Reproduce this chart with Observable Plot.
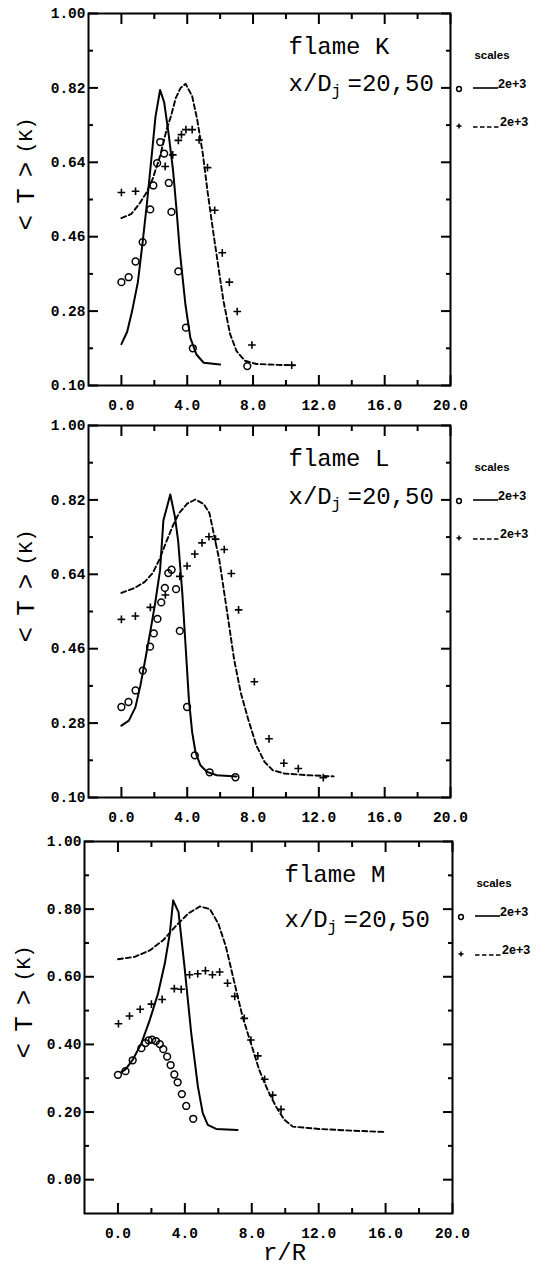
<!DOCTYPE html>
<html><head><meta charset="utf-8">
<script src="https://cdn.jsdelivr.net/npm/d3@7"></script>
<script src="https://cdn.jsdelivr.net/npm/@observablehq/plot@0.6"></script>
<style>
body{margin:0;background:#fff;width:545px;height:1265px;overflow:hidden}
#c svg{display:block;background:#fff}
</style>
</head><body><div id="c"></div>
<script>
// ---------- data ----------
const panelNames = ["flame K", "flame L", "flame M"];
const stationLabel = ["x/D", "j", "=20,50"];
const yAxisLabel = ["<T>", "(K)"];
const xAxisLabel = "r/R";
const legendTitle = "scales";
const legendScales = ["2e+3", "2e+3"];

const xMajor = [0, 4, 8, 12, 16, 20];
const xMinor = [2, 6, 10, 14, 18];
const yMajorKL = [0.10, 0.28, 0.46, 0.64, 0.82, 1.00];
const yMinorKL = [0.19, 0.37, 0.55, 0.73, 0.91];
const yMajorM = [0.00, 0.20, 0.40, 0.60, 0.80, 1.00];
const yMinorM = [0.10, 0.30, 0.50, 0.70, 0.90];

// flame K
const kCircleX = [0, 0.44, 0.86, 1.29, 1.75, 1.94, 2.17, 2.36, 2.6, 2.88, 3.04, 3.46, 3.92, 4.34, 7.65];
const kCircleY = [0.35, 0.362, 0.40, 0.447, 0.526, 0.584, 0.638, 0.689, 0.661, 0.59, 0.52, 0.376, 0.24, 0.19, 0.147];
const kCrossX = [0, 0.86, 2.66, 3.12, 3.46, 3.65, 3.92, 4.3, 4.72, 5.23, 5.67, 6.13, 6.56, 7.04, 7.93, 10.35];
const kCrossY = [0.567, 0.57, 0.63, 0.658, 0.693, 0.707, 0.719, 0.719, 0.694, 0.627, 0.524, 0.421, 0.35, 0.279, 0.198, 0.149];
const kSolidX = [0, 0.35, 0.65, 1.0, 1.3, 1.55, 1.85, 2.07, 2.35, 2.6, 2.88, 3.14, 3.34, 3.55, 3.89, 4.19, 4.56, 5.0, 6.0];
const kSolidY = [0.20, 0.23, 0.28, 0.35, 0.45, 0.54, 0.66, 0.75, 0.815, 0.785, 0.705, 0.62, 0.53, 0.425, 0.296, 0.215, 0.175, 0.155, 0.151];
const kDashX = [0, 0.6, 1.1, 1.5, 1.9, 2.35, 2.75, 3.0, 3.3, 3.6, 3.9, 4.3, 4.6, 4.95, 5.25, 5.6, 5.9, 6.2, 6.6, 7.0, 7.5, 8.2, 9.5, 10.55];
const kDashY = [0.505, 0.515, 0.54, 0.565, 0.60, 0.655, 0.72, 0.75, 0.795, 0.82, 0.83, 0.80, 0.745, 0.66, 0.565, 0.466, 0.385, 0.305, 0.225, 0.183, 0.16, 0.152, 0.15, 0.149];

// flame L
const lCircleX = [0, 0.43, 0.86, 1.3, 1.74, 1.97, 2.19, 2.42, 2.64, 2.85, 3.05, 3.32, 3.55, 3.99, 4.46, 5.36, 6.93];
const lCircleY = [0.319, 0.331, 0.359, 0.407, 0.465, 0.497, 0.532, 0.572, 0.607, 0.643, 0.651, 0.604, 0.503, 0.319, 0.202, 0.161, 0.149];
const lCrossX = [0, 0.85, 1.76, 2.67, 3.55, 3.99, 4.46, 4.9, 5.32, 5.72, 6.25, 6.68, 7.12, 8.08, 8.97, 9.87, 10.75, 12.27];
const lCrossY = [0.531, 0.539, 0.56, 0.59, 0.635, 0.66, 0.689, 0.716, 0.731, 0.725, 0.70, 0.642, 0.554, 0.38, 0.242, 0.183, 0.17, 0.148];
const lSolidX = [0, 0.45, 0.85, 1.15, 1.45, 1.75, 2.05, 2.35, 2.55, 2.75, 2.97, 3.25, 3.45, 3.7, 3.9, 4.1, 4.3, 4.5, 4.8, 5.2, 5.8, 7.0];
const lSolidY = [0.274, 0.286, 0.318, 0.37, 0.434, 0.5, 0.57, 0.65, 0.77, 0.80, 0.833, 0.78, 0.72, 0.595, 0.467, 0.338, 0.258, 0.21, 0.178, 0.162, 0.154, 0.151];
const lDashX = [0, 0.8, 1.4, 1.9, 2.3, 2.7, 3.1, 3.5, 4.0, 4.5, 5.0, 5.35, 5.65, 5.95, 6.25, 6.55, 6.85, 7.25, 7.7, 8.2, 8.7, 9.2, 9.9, 11.3, 12.9];
const lDashY = [0.595, 0.607, 0.621, 0.643, 0.675, 0.716, 0.755, 0.788, 0.811, 0.821, 0.81, 0.788, 0.731, 0.675, 0.595, 0.515, 0.434, 0.354, 0.29, 0.226, 0.186, 0.166, 0.158, 0.154, 0.151];

// flame M
const mCircleX = [0, 0.45, 0.88, 1.4, 1.64, 1.83, 2.04, 2.27, 2.5, 2.71, 2.94, 3.15, 3.37, 3.57, 3.82, 4.08, 4.5];
const mCircleY = [0.31, 0.321, 0.353, 0.389, 0.404, 0.412, 0.414, 0.41, 0.401, 0.386, 0.364, 0.339, 0.311, 0.288, 0.253, 0.218, 0.18];
const mCrossX = [0.03, 0.69, 1.33, 2.0, 2.64, 3.37, 3.78, 4.28, 4.77, 5.23, 5.65, 6.08, 6.55, 6.98, 7.55, 7.95, 8.36, 8.77, 9.25, 9.75];
const mCrossY = [0.461, 0.484, 0.504, 0.519, 0.533, 0.565, 0.563, 0.606, 0.609, 0.618, 0.606, 0.614, 0.581, 0.542, 0.477, 0.413, 0.366, 0.297, 0.25, 0.208];
const mSolidX = [0.2, 0.45, 0.9, 1.4, 1.9, 2.4, 2.8, 3.1, 3.3, 3.62, 3.98, 4.38, 4.78, 5.07, 5.37, 5.87, 7.15];
const mSolidY = [0.318, 0.326, 0.356, 0.403, 0.472, 0.551, 0.639, 0.728, 0.826, 0.791, 0.629, 0.433, 0.275, 0.197, 0.162, 0.15, 0.147];
const mDashX = [0, 1.0, 1.9, 2.7, 3.4, 4.2, 4.9, 5.5, 6.0, 6.45, 6.95, 7.45, 7.95, 8.45, 8.95, 9.45, 9.95, 10.45, 12.0, 14.0, 16.0];
const mDashY = [0.652, 0.659, 0.678, 0.708, 0.747, 0.787, 0.808, 0.80, 0.757, 0.69, 0.585, 0.482, 0.403, 0.324, 0.265, 0.216, 0.177, 0.157, 0.15, 0.145, 0.141];

// ---------- drawing ----------
const MONO = "Liberation Mono, DejaVu Sans Mono, monospace";
const SANS = "'Liberation Sans Narrow','Liberation Sans',Arial,sans-serif";
const pts = (xs, ys) => xs.map((x, i) => ({x, y: ys[i]}));
const blank = () => "";

// svg heights 416 + 412 + 437 = 1265; frames at y 13-385, 425-797, 841-1213
const layouts = [
  {height: 416, mt: 13, mb: 31, ml: 88, mr: 95, yDomain: [0.1, 1.0], yMajor: yMajorKL, yMinor: yMinorKL, stDy: 77, ylDx: -63,
   circ: pts(kCircleX, kCircleY), cross: pts(kCrossX, kCrossY), solid: pts(kSolidX, kSolidY), dash: pts(kDashX, kDashY)},
  {height: 412, mt: 9, mb: 31, ml: 88, mr: 95, yDomain: [0.1, 1.0], yMajor: yMajorKL, yMinor: yMinorKL, stDy: 78, ylDx: -63,
   circ: pts(lCircleX, lCircleY), cross: pts(lCrossX, lCrossY), solid: pts(lSolidX, lSolidY), dash: pts(lDashX, lDashY)},
  {height: 437, mt: 13, mb: 52, ml: 84, mr: 93, yDomain: [-0.1, 1.0], yMajor: yMajorM, yMinor: yMinorM, stDy: 85, ylDx: -61, xlabel: true,
   circ: pts(mCircleX, mCircleY), cross: pts(mCrossX, mCrossY), solid: pts(mSolidX, mSolidY), dash: pts(mDashX, mDashY)}
];

const container = document.getElementById("c");
layouts.forEach((L, i) => {
  const tk = {tickFormat: blank, label: null, stroke: "black", strokeWidth: 2};
  const marks = [
    Plot.frame({stroke: "black", strokeWidth: 2}),
    // inward ticks on all four sides (library axes, shifted inside the frame)
    Plot.axisX(xMajor, {anchor: "bottom", tickSize: 10, dy: -10, ...tk}),
    Plot.axisX(xMinor, {anchor: "bottom", tickSize: 5, dy: -5, ...tk}),
    Plot.axisX(xMajor, {anchor: "top", tickSize: 10, dy: 10, ...tk}),
    Plot.axisX(xMinor, {anchor: "top", tickSize: 5, dy: 5, ...tk}),
    Plot.axisY(L.yMajor, {anchor: "left", tickSize: 10, dx: 10, ...tk}),
    Plot.axisY(L.yMinor, {anchor: "left", tickSize: 5, dx: 5, ...tk}),
    Plot.axisY(L.yMajor, {anchor: "right", tickSize: 10, dx: -10, ...tk}),
    Plot.axisY(L.yMinor, {anchor: "right", tickSize: 5, dx: -5, ...tk}),
    // tick labels
    Plot.axisX(xMajor, {anchor: "bottom", tickSize: 0, tickPadding: 14, tickFormat: d3.format(".1f"), fontSize: 14.5, fontWeight: "bold", fontFamily: MONO, label: null}),
    Plot.axisY(L.yMajor, {anchor: "left", tickSize: 0, tickPadding: 3, tickFormat: d3.format(".2f"), fontSize: 14.5, fontWeight: "bold", fontFamily: MONO, label: null}),
    // data
    Plot.line(L.solid, {x: "x", y: "y", stroke: "black", strokeWidth: 2}),
    Plot.line(L.dash, {x: "x", y: "y", stroke: "black", strokeWidth: 1.9, strokeDasharray: "5,3"}),
    Plot.dot(L.circ, {x: "x", y: "y", r: 3.4, stroke: "black", strokeWidth: 1.5, fill: "none"}),
    Plot.dot(L.cross, {x: "x", y: "y", symbol: "plus", r: 2.6, stroke: "black", strokeWidth: 1.6}),
    // annotations
    Plot.text([panelNames[i]], {text: d => d, frameAnchor: "top-left", dx: 200, dy: 40, textAnchor: "start", lineAnchor: "bottom", fontSize: 24, fontFamily: MONO}),
    Plot.text([stationLabel[0]], {text: d => d, frameAnchor: "top-left", dx: 200, dy: L.stDy, textAnchor: "start", lineAnchor: "bottom", fontSize: 24, fontFamily: MONO}),
    Plot.text([stationLabel[1]], {text: d => d, frameAnchor: "top-left", dx: 243, dy: L.stDy + 5, textAnchor: "start", lineAnchor: "bottom", fontSize: 16, fontFamily: MONO}),
    Plot.text([stationLabel[2]], {text: d => d, frameAnchor: "top-left", dx: 259, dy: L.stDy, textAnchor: "start", lineAnchor: "bottom", fontSize: 24, fontFamily: MONO}),
    Plot.text([yAxisLabel[0]], {text: d => d, frameAnchor: "top-left", dx: L.ylDx, dy: 177, rotate: -90, textAnchor: "middle", lineAnchor: "middle", fontSize: 26, fontFamily: MONO}),
    Plot.text([yAxisLabel[1]], {text: d => d, frameAnchor: "top-left", dx: L.ylDx, dy: 122, rotate: -90, textAnchor: "middle", lineAnchor: "middle", fontSize: 20, fontFamily: MONO})
  ];
  if (L.xlabel) {
    marks.push(Plot.text([xAxisLabel], {text: d => d, frameAnchor: "bottom", dx: 16, dy: 46, textAnchor: "middle", lineAnchor: "bottom", fontSize: 24, fontFamily: MONO}));
  }
  const fig = Plot.plot({
    width: 545, height: L.height,
    marginTop: L.mt, marginBottom: L.mb, marginLeft: L.ml, marginRight: L.mr,
    x: {domain: [-2, 20]},
    y: {domain: L.yDomain},
    marks
  });
  // widen the <T> label like the original typesetting
  d3.select(fig).selectAll("text").filter(function() { return this.textContent === yAxisLabel[0]; })
    .style("letter-spacing", "11px");
  // legend (outside the frame, right side)
  const R = 545 - L.mr, T = L.mt;
  const g = d3.select(fig).append("g").attr("font-family", SANS).attr("font-weight", "bold").attr("fill", "black").attr("text-anchor", "start");
  g.append("text").attr("x", R + 42).attr("y", T + 46).attr("text-anchor", "middle").attr("font-size", 11.5).text(legendTitle);
  g.append("circle").attr("cx", R + 9).attr("cy", T + 76).attr("r", 2.4).attr("fill", "none").attr("stroke", "black").attr("stroke-width", 1.5);
  g.append("line").attr("x1", R + 23).attr("x2", R + 48).attr("y1", T + 75).attr("y2", T + 75).attr("stroke", "black").attr("stroke-width", 1.6);
  g.append("text").attr("x", R + 48).attr("y", T + 75).attr("font-size", 12.5).text(legendScales[0]);
  g.append("path").attr("d", `M${R + 6.5},${T + 113}h5M${R + 9},${T + 110.5}v5`).attr("stroke", "black").attr("stroke-width", 1.5);
  g.append("line").attr("x1", R + 23).attr("x2", R + 50).attr("y1", T + 114).attr("y2", T + 114).attr("stroke", "black").attr("stroke-width", 1.6).attr("stroke-dasharray", "4.5,2.5");
  g.append("text").attr("x", R + 50).attr("y", T + 113).attr("font-size", 12.5).text(legendScales[1]);
  container.appendChild(fig);
});
</script>
</body></html>
